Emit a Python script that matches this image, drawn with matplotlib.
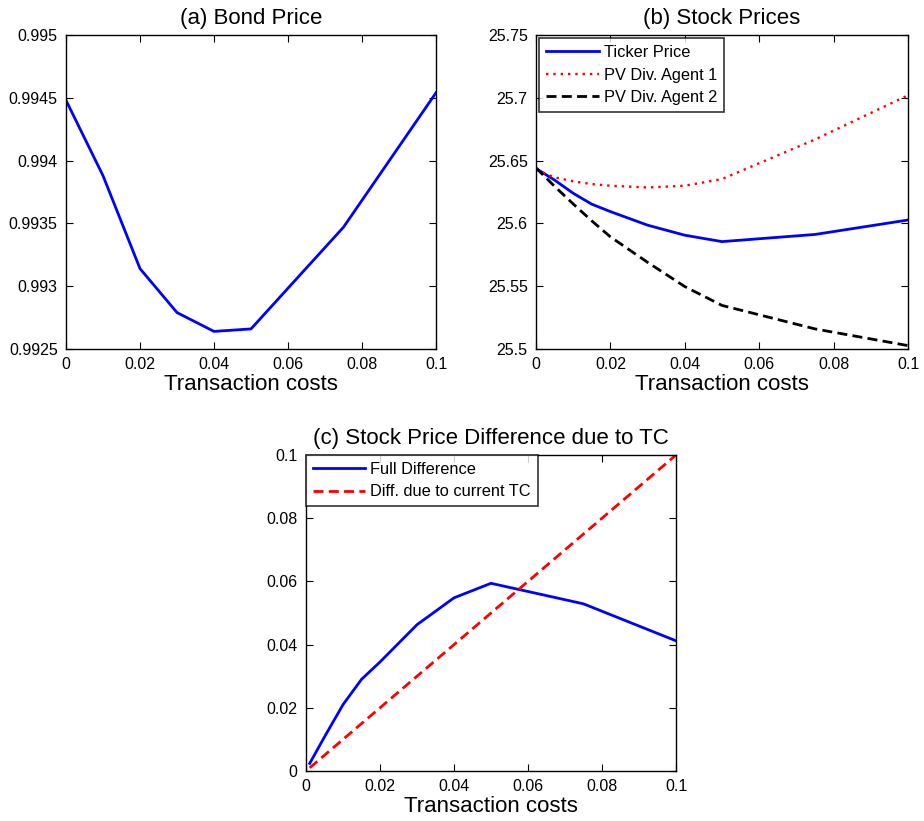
import matplotlib
matplotlib.use("Agg")
import matplotlib.pyplot as plt

plt.rcParams['font.family'] = ['Liberation Sans', 'DejaVu Sans']

# Panel (a) Bond price
tc_a = [0.0, 0.01, 0.02, 0.03, 0.04, 0.05, 0.075, 0.1]
bond_price = [0.99448, 0.99388, 0.99314, 0.99279, 0.99264, 0.99266, 0.99347, 0.99454]

# Panel (b) Stock prices
tc_b = [0.0, 0.005, 0.01, 0.015, 0.02, 0.03, 0.04, 0.05, 0.075, 0.1]
ticker_price = [25.6437, 25.6345, 25.6240, 25.6153, 25.6094, 25.5986, 25.5906, 25.5855, 25.5912, 25.6027]
pv_agent1 = [25.6425, 25.6367, 25.6335, 25.6313, 25.6300, 25.6286, 25.6300, 25.6353, 25.6668, 25.7020]
pv_agent2 = [25.6442, 25.6295, 25.6155, 25.6020, 25.5893, 25.5690, 25.5497, 25.5347, 25.5160, 25.5027]

# Panel (c) Stock price difference
tc_c = [0.001, 0.005, 0.01, 0.015, 0.02, 0.03, 0.04, 0.05, 0.075, 0.1]
full_diff = [0.0024, 0.0108, 0.0210, 0.0290, 0.0345, 0.0463, 0.0548, 0.0594, 0.0529, 0.0412]
tc_line = [0.001, 0.1]
diff_current_tc = [0.001, 0.1]

xticks = [0, 0.02, 0.04, 0.06, 0.08, 0.1]
xticklabels = ['0', '0.02', '0.04', '0.06', '0.08', '0.1']
yticks_a = [0.9925, 0.993, 0.9935, 0.994, 0.9945, 0.995]
yticklabels_a = ['0.9925', '0.993', '0.9935', '0.994', '0.9945', '0.995']
yticks_b = [25.5, 25.55, 25.6, 25.65, 25.7, 25.75]
yticklabels_b = ['25.5', '25.55', '25.6', '25.65', '25.7', '25.75']
yticks_c = [0, 0.02, 0.04, 0.06, 0.08, 0.1]
yticklabels_c = ['0', '0.02', '0.04', '0.06', '0.08', '0.1']

W, H = 924, 821
fig = plt.figure(figsize=(W / 100, H / 100), dpi=100)


def make_ax(left, top, right, bottom):
    return fig.add_axes([left / W, (H - bottom) / H, (right - left) / W, (bottom - top) / H])


def style(ax, title, yticks, yticklabels):
    ax.set_xlim(0, 0.1)
    ax.set_xticks(xticks)
    ax.set_xticklabels(xticklabels)
    ax.set_yticks(yticks)
    ax.set_yticklabels(yticklabels)
    ax.set_ylim(yticks[0], yticks[-1])
    ax.tick_params(direction='in', top=True, right=True, length=5, width=0.8,
                   labelsize=11.5, pad=6)
    for s in ax.spines.values():
        s.set_linewidth(1.0)
    ax.set_title(title, fontsize=16, pad=8)
    ax.set_xlabel('Transaction costs', fontsize=16, labelpad=1)


def add_legend(ax, pad):
    leg = ax.legend(loc='upper left', fontsize=11.8, frameon=True, fancybox=False,
                    edgecolor='black', borderaxespad=pad, handlelength=3.2,
                    handletextpad=0.3, labelspacing=0.45, borderpad=0.42)
    leg.get_frame().set_linewidth(1.2)
    return leg


dash = (0, (3.6, 1.9))

axa = make_ax(66, 35, 436, 349)
axa.plot(tc_a, bond_price, color='#0000ff', lw=2)
style(axa, '(a) Bond Price', yticks_a, yticklabels_a)

axb = make_ax(536, 35, 908, 349)
axb.plot(tc_b, ticker_price, color='#0000ff', lw=2, label='Ticker Price')
axb.plot(tc_b, pv_agent1, color='#ff0000', lw=1.7, ls=(0, (1, 2.1)), label='PV Div. Agent 1')
axb.plot(tc_b, pv_agent2, color='black', lw=2, ls=dash, label='PV Div. Agent 2')
style(axb, '(b) Stock Prices', yticks_b, yticklabels_b)
add_legend(axb, 0.2)

axc = make_ax(306, 455, 676, 771)
axc.plot(tc_c, full_diff, color='#0000ff', lw=2, label='Full Difference')
axc.plot(tc_line, diff_current_tc, color='#ff0000', lw=2, ls=dash,
         label='Diff. due to current TC')
style(axc, '(c) Stock Price Difference due to TC', yticks_c, yticklabels_c)
add_legend(axc, 0.0)

fig.savefig('out.png', dpi=100)
